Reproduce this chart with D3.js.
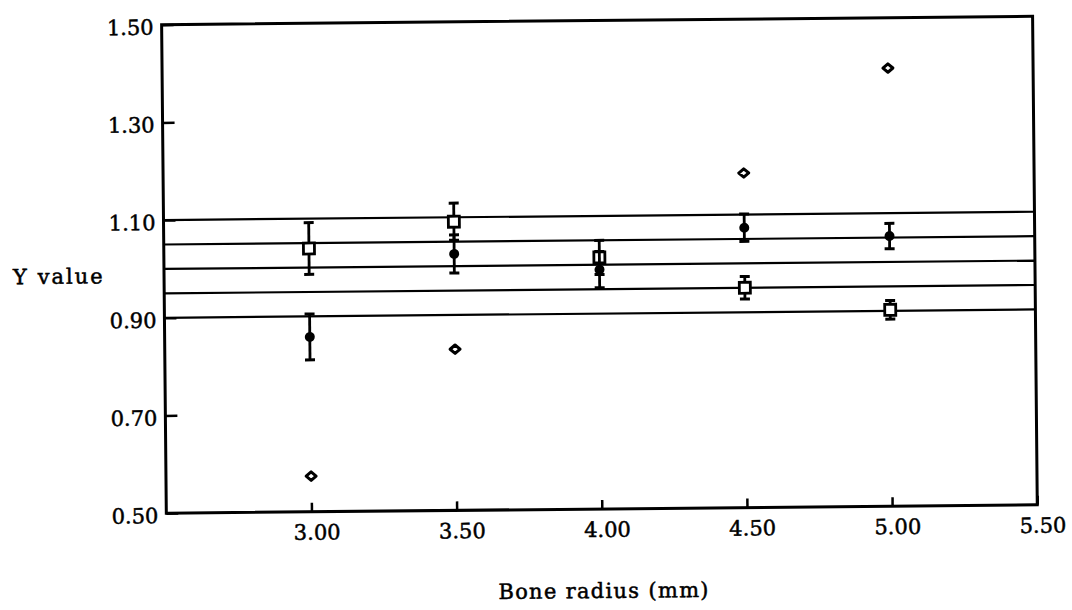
<!DOCTYPE html>
<html>
<head>
<meta charset="utf-8">
<script src="https://cdn.jsdelivr.net/npm/d3@7/dist/d3.min.js"></script>
<style>
  html, body { margin: 0; padding: 0; background: #fff; }
  svg { display: block; }
  text { font-family: "DejaVu Serif", "Liberation Serif", serif; fill: #000; stroke: #000; stroke-width: 0.5px; }
</style>
</head>
<body>
<svg id="chart" width="1072" height="610"></svg>
<script>
// ---- data ----
const xValues = [3.0, 3.5, 4.0, 4.5, 5.0];
const squareMean = [1.039, 1.091, 1.015, 0.950, 0.902];
const squareErr  = [0.053, 0.038, 0.035, 0.023, 0.019];
const circleMean = [0.858, 1.025, 0.990, 1.073, 1.053];
const circleErr  = [0.047, 0.039, 0.037, 0.028, 0.026];
const diamondX   = [3.0, 3.5, 4.5, 5.0];
const diamondVal = [0.573, 0.830, 1.185, 1.397];
const refLines   = [1.10, 1.05, 1.00, 0.95, 0.90];
const xTicks = [3.0, 3.5, 4.0, 4.5, 5.0, 5.5];
const yTicks = [0.5, 0.7, 0.9, 1.1, 1.3, 1.5];
const xTitle = "Bone radius (mm)";
const yTitle = "Y value";

// ---- layout ----
const plotL = 164, plotR = 1035, plotT = 20.5, plotB = 509;
const svg = d3.select("#chart");
const root = svg.append("g").attr("transform", "rotate(-0.55 600 270)");

const x = d3.scaleLinear().domain([2.5, 5.5]).range([plotL, plotR]);
const y = d3.scaleLinear().domain([0.5, 1.5]).range([plotB, plotT]);

// reference lines
root.append("g").selectAll("line").data(refLines).join("line")
  .attr("x1", plotL).attr("x2", plotR)
  .attr("y1", d => y(d)).attr("y2", d => y(d))
  .attr("stroke", "#000").attr("stroke-width", 2.2);

// axes
const yAxis = d3.axisLeft(y).tickValues(yTicks).tickFormat(d3.format(".2f"))
  .tickSizeInner(-12).tickSizeOuter(0).tickPadding(8);
const gy = root.append("g").attr("transform", `translate(${plotL},0)`).call(yAxis);
gy.select(".domain").remove();
gy.selectAll(".tick line").attr("stroke", "#000").attr("stroke-width", 2.5);
gy.selectAll(".tick text").attr("font-size", 21).attr("dy", "0.45em")
  .style("font-family", '"DejaVu Serif", serif');

const xAxis = d3.axisBottom(x).tickValues(xTicks).tickFormat(d3.format(".2f"))
  .tickSizeInner(-9).tickSizeOuter(0).tickPadding(13);
const gx = root.append("g").attr("transform", `translate(0,${plotB})`).call(xAxis);
gx.select(".domain").remove();
gx.selectAll(".tick line").attr("stroke", "#000").attr("stroke-width", 2.5);
gx.selectAll(".tick text").attr("font-size", 21).attr("dx", 5)
  .style("font-family", '"DejaVu Serif", serif');

// frame
root.append("rect")
  .attr("x", plotL).attr("y", plotT)
  .attr("width", plotR - plotL).attr("height", plotB - plotT)
  .attr("fill", "none").attr("stroke", "#000").attr("stroke-width", 3);

// titles
root.append("text").attr("x", 13).attr("y", 278.5)
  .attr("font-size", 21).attr("letter-spacing", 2).text(yTitle);
root.append("text").attr("x", 601).attr("y", 598)
  .attr("text-anchor", "middle").attr("font-size", 21)
  .attr("letter-spacing", 1.3).text(xTitle);

// error bar helper
function errorBars(g, xs, means, errs) {
  const d = xs.map((v, i) => ({x: v, m: means[i], e: errs[i]}));
  const eb = g.append("g").selectAll("g").data(d).join("g");
  eb.append("line")
    .attr("x1", p => x(p.x)).attr("x2", p => x(p.x))
    .attr("y1", p => y(p.m + p.e)).attr("y2", p => y(p.m - p.e))
    .attr("stroke", "#000").attr("stroke-width", 2.8);
  eb.append("line")
    .attr("x1", p => x(p.x) - 5).attr("x2", p => x(p.x) + 5)
    .attr("y1", p => y(p.m + p.e)).attr("y2", p => y(p.m + p.e))
    .attr("stroke", "#000").attr("stroke-width", 3);
  eb.append("line")
    .attr("x1", p => x(p.x) - 5).attr("x2", p => x(p.x) + 5)
    .attr("y1", p => y(p.m - p.e)).attr("y2", p => y(p.m - p.e))
    .attr("stroke", "#000").attr("stroke-width", 3);
}

// diamonds
root.append("g").selectAll("path").data(diamondX.map((v, i) => [v, diamondVal[i]])).join("path")
  .attr("transform", d => `translate(${x(d[0])},${y(d[1])})`)
  .attr("d", "M0,-4.2 L5,0 L0,4.2 L-5,0 Z")
  .attr("fill", "#fff").attr("stroke", "#000").attr("stroke-width", 3)
  .attr("stroke-linejoin", "round");

// squares
const gs = root.append("g");
errorBars(gs, xValues, squareMean, squareErr);
gs.append("g").selectAll("rect").data(xValues.map((v, i) => [v, squareMean[i]])).join("rect")
  .attr("x", d => x(d[0]) - 5.5).attr("y", d => y(d[1]) - 5.5)
  .attr("width", 11).attr("height", 11)
  .attr("fill", "#fff").attr("stroke", "#000").attr("stroke-width", 2.8);

// circles
const gc = root.append("g");
errorBars(gc, xValues, circleMean, circleErr);
gc.append("g").selectAll("circle").data(xValues.map((v, i) => [v, circleMean[i]])).join("circle")
  .attr("cx", d => x(d[0])).attr("cy", d => y(d[1]))
  .attr("r", 5).attr("fill", "#000");
</script>
</body>
</html>
